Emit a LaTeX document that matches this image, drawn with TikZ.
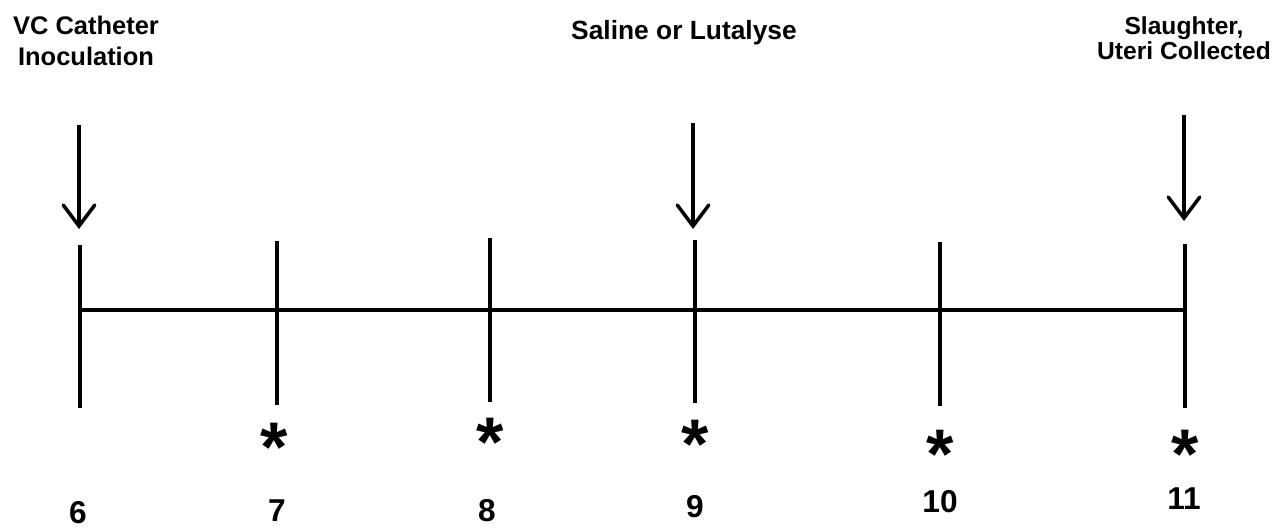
\documentclass[tikz,border=0pt]{standalone}
\usepackage{fontspec}
\setmainfont{Liberation Sans}
\usetikzlibrary{arrows.meta}
\begin{document}
\begin{tikzpicture}[x=0.02cm,y=-0.02cm,line width=2pt,
	lbl/.style={font=\bfseries\fontsize{14.5}{18}\selectfont,align=center,inner sep=0pt,anchor=north},
	day/.style={font=\bfseries\fontsize{18}{20}\selectfont,inner sep=0pt,anchor=base,text depth=0pt},
	star/.style={font=\bfseries\fontsize{40}{40}\selectfont,inner sep=0pt,anchor=base},
	down/.style={-{Straight Barb[length=12pt,width=18pt,line cap=round]}}]
	\useasboundingbox (0,0) rectangle (1277,529);
	% time line
	\coordinate (d6) at (80,310);
	\coordinate (d11) at (1185,310);
	\draw (d6)--(d11);
	\foreach \x/\a/\b in {80/245/408,277/241/405,490/238/402,695/240/403,940/242/406,1185/244/408}
	\draw (\x,\a)--(\x,\b);
	% days
	\foreach \x/\y/\d in {78/523/6,277/521/7,487/521/8,695/517/9,940/512/10,1184/509/11}
	\node[day] (n\d) at (\x,\y) {\d};
	% stars
	\foreach \x/\y/\d in {274/471/7,490/466/8,695/468/9,940/478/10,1185/478/11}
	\node[star] (s\d) at (\x,\y) {\smash{*}};
	% events
	\node[lbl] (cath) at (86,14) {VC Catheter\\Inoculation};
	\node[lbl,font=\bfseries\fontsize{15}{18}\selectfont] (sal) at (684,19) {Saline or Lutalyse};
	\node[lbl,font=\bfseries\fontsize{14}{12}\selectfont] (slau) at (1184,15) {Slaughter,\\Uteri Collected};
	\coordinate (a6) at (79,125);   \coordinate (b6) at (79,229);
	\coordinate (a9) at (693,123);  \coordinate (b9) at (693,229);
	\coordinate (a11) at (1184,115); \coordinate (b11) at (1184,221);
	\draw[down] (a6)--(b6);
	\draw[down] (a9)--(b9);
	\draw[down] (a11)--(b11);
\end{tikzpicture}
\end{document}
